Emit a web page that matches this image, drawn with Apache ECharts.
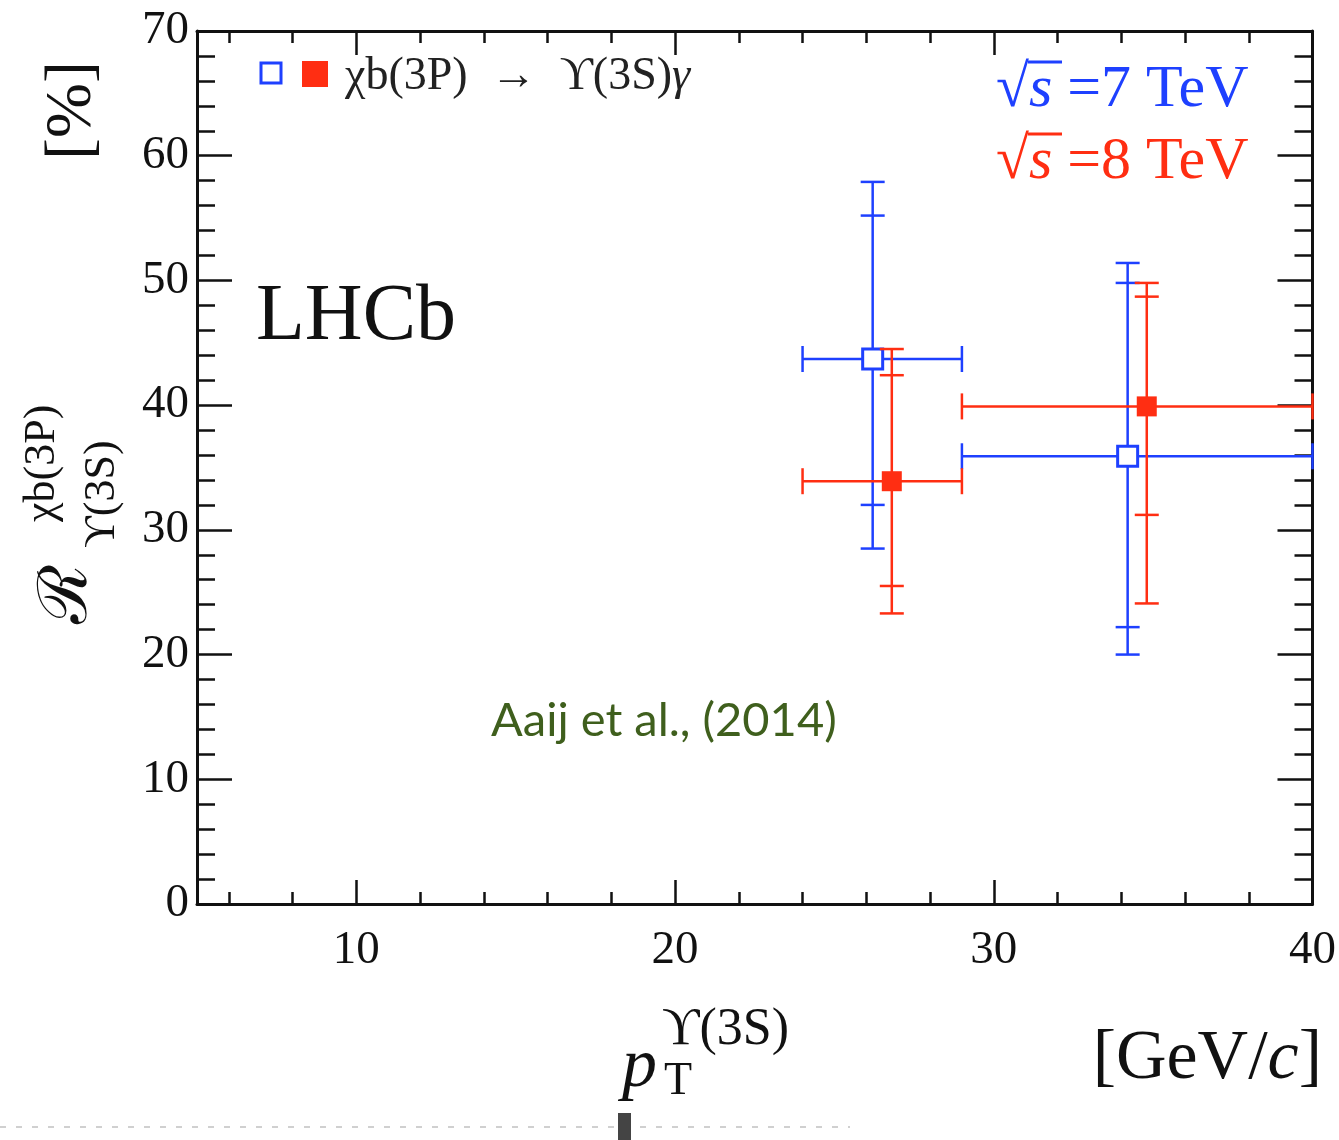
<!DOCTYPE html>
<html>
<head>
<meta charset="utf-8">
<script src="https://cdn.jsdelivr.net/npm/echarts@6/dist/echarts.min.js"></script>
<style>html,body{margin:0;padding:0;background:#fff;}#c{width:1339px;height:1140px;}</style>
</head>
<body>
<div id="c"></div>
<script>
// ---- data ----
const pt7 = [26.2, 34.2];          // pT bin centre, sqrt(s)=7 TeV
const r7 = [43.7, 35.9];           // ratio [%]
const binLo7 = [24, 29];
const binHi7 = [29, 40];
const statLo7 = [32.0, 22.2];
const statHi7 = [55.2, 49.8];
const totLo7 = [28.5, 20.0];
const totHi7 = [57.9, 51.4];

const pt8 = [26.8, 34.8];          // sqrt(s)=8 TeV
const r8 = [33.9, 39.9];
const binLo8 = [24, 29];
const binHi8 = [29, 40];
const statLo8 = [25.5, 31.2];
const statHi8 = [42.4, 48.7];
const totLo8 = [23.3, 24.1];
const totHi8 = [44.5, 49.8];

const xMajorTicks = [10, 20, 30, 40];
const xMinorTicks = [6, 8, 12, 14, 16, 18, 22, 24, 26, 28, 32, 34, 36, 38];

const BLUE = '#1e40ff';
const RED = '#ff2e12';
const SERIF = '"Liberation Serif", "DejaVu Serif", serif';

function rows(x, y, xl, xh, sl, sh, tl, th) {
  return x.map((v, i) => [v, y[i], xl[i], xh[i], sl[i], sh[i], tl[i], th[i]]);
}

function makeRender(color, filled) {
  return function (params, api) {
    const x = api.value(0), y = api.value(1);
    const c = api.coord([x, y]);
    const xl = api.coord([api.value(2), y])[0];
    const xh = api.coord([api.value(3), y])[0];
    const sl = api.coord([x, api.value(4)])[1];
    const sh = api.coord([x, api.value(5)])[1];
    const tl = api.coord([x, api.value(6)])[1];
    const th = api.coord([x, api.value(7)])[1];
    const st = { stroke: color, lineWidth: 2.5 };
    const cw = 12, ch = 13, half = 10;
    const L = (x1, y1, x2, y2) => ({ type: 'line', shape: { x1, y1, x2, y2 }, style: st });
    return {
      type: 'group',
      children: [
        L(xl, c[1], xh, c[1]),
        L(xl, c[1] - ch, xl, c[1] + ch),
        L(xh, c[1] - ch, xh, c[1] + ch),
        L(c[0], th, c[0], tl),
        L(c[0] - cw, th, c[0] + cw, th),
        L(c[0] - cw, tl, c[0] + cw, tl),
        L(c[0] - cw, sh, c[0] + cw, sh),
        L(c[0] - cw, sl, c[0] + cw, sl),
        { type: 'rect', shape: { x: c[0] - half, y: c[1] - half, width: 2 * half, height: 2 * half },
          style: filled ? { fill: color } : { fill: '#fff', stroke: color, lineWidth: 3 } }
      ]
    };
  };
}

const chart = echarts.init(document.getElementById('c'), null, { renderer: 'canvas' });

const axLine = { show: true, lineStyle: { color: '#111', width: 3 } };
const tickStyle = { color: '#111', width: 2.5 };

function xAx(pos, values, len, labels, lineShow) {
  return {
    type: 'value', position: pos, min: 5, max: 40,
    axisLine: lineShow ? axLine : { show: false },
    splitLine: { show: false },
    axisTick: { show: true, inside: true, length: len, customValues: values, lineStyle: tickStyle },
    axisLabel: labels ? { show: true, customValues: values, fontFamily: SERIF, fontSize: 47, color: '#111', margin: 23 } : { show: false }
  };
}
function yAx(pos, labels) {
  return {
    type: 'value', position: pos, min: 0, max: 70, interval: 10,
    axisLine: axLine,
    splitLine: { show: false },
    axisTick: { show: true, inside: true, length: 35, lineStyle: tickStyle },
    minorTick: { show: true, splitNumber: 5, length: 18, lineStyle: tickStyle },
    axisLabel: labels ? { show: true, fontFamily: SERIF, fontSize: 47, color: '#111', margin: 8 } : { show: false }
  };
}

function rt(fs, color, italic) {
  return { fontFamily: SERIF, fontSize: fs, fontStyle: italic ? 'italic' : 'normal', fill: color };
}

const option = {
  backgroundColor: '#fff',
  animation: false,
  grid: { left: 197, right: 23, top: 31, bottom: 236, containLabel: false },
  xAxis: [
    xAx('bottom', xMajorTicks, 24, true, true),
    xAx('bottom', xMinorTicks, 12, false, false),
    xAx('top', xMajorTicks, 24, false, true),
    xAx('top', xMinorTicks, 12, false, false)
  ],
  yAxis: [yAx('left', true), yAx('right', false)],
  series: [
    { type: 'custom', name: '7 TeV', xAxisIndex: 0, yAxisIndex: 0, renderItem: makeRender(BLUE, false),
      encode: { x: 0, y: 1 }, data: rows(pt7, r7, binLo7, binHi7, statLo7, statHi7, totLo7, totHi7), z: 3 },
    { type: 'custom', name: '8 TeV', xAxisIndex: 0, yAxisIndex: 0, renderItem: makeRender(RED, true),
      encode: { x: 0, y: 1 }, data: rows(pt8, r8, binLo8, binHi8, statLo8, statHi8, totLo8, totHi8), z: 4 }
  ],
  graphic: [
    // legend
    { type: 'rect', shape: { x: 261, y: 63, width: 20, height: 20 }, style: { fill: '#fff', stroke: BLUE, lineWidth: 3 } },
    { type: 'rect', shape: { x: 302, y: 61, width: 26, height: 26 }, style: { fill: RED } },
    { type: 'text', x: 345, y: 77, style: {
        text: '{a|χb(3P)  →  ϒ(3S)}{g|γ}', verticalAlign: 'middle', align: 'left',
        rich: { a: rt(46, '#222', false), g: rt(46, '#222', true) } } },
    // energies
    { type: 'text', x: 996, y: 90, style: {
        text: '{r|√}{s|s}{n| =7 TeV}', verticalAlign: 'middle', align: 'left',
        rich: { r: rt(60, BLUE, false), s: rt(60, BLUE, true), n: rt(60, BLUE, false) } } },
    { type: 'line', shape: { x1: 1028, y1: 62, x2: 1062, y2: 62 }, style: { stroke: BLUE, lineWidth: 3 } },
    { type: 'text', x: 996, y: 162, style: {
        text: '{r|√}{s|s}{n| =8 TeV}', verticalAlign: 'middle', align: 'left',
        rich: { r: rt(60, RED, false), s: rt(60, RED, true), n: rt(60, RED, false) } } },
    { type: 'line', shape: { x1: 1028, y1: 134, x2: 1062, y2: 134 }, style: { stroke: RED, lineWidth: 3 } },
    // LHCb
    { type: 'text', x: 256, y: 318, style: { text: 'LHCb', fontFamily: SERIF, fontSize: 80, fill: '#111', verticalAlign: 'middle', align: 'left' } },
    // citation
    { type: 'text', x: 491, y: 721, style: { text: 'Aaij et al., (2014)', fontFamily: 'Lato, "Open Sans", sans-serif', fontSize: 47, fill: '#3f5f1d', verticalAlign: 'middle', align: 'left' } },
    // x axis title
    { type: 'text', x: 622, y: 1068, style: { text: 'p', fontFamily: SERIF, fontStyle: 'italic', fontSize: 70, fill: '#111', verticalAlign: 'middle', align: 'left' } },
    { type: 'text', x: 664, y: 1082, style: { text: 'T', fontFamily: SERIF, fontSize: 46, fill: '#111', verticalAlign: 'middle', align: 'left' } },
    { type: 'text', x: 662, y: 1030, style: { text: 'ϒ(3S)', fontFamily: SERIF, fontSize: 52, fill: '#111', verticalAlign: 'middle', align: 'left' } },
    { type: 'text', x: 1322, y: 1060, style: {
        text: '{a|[GeV/}{b|c}{a|]}', align: 'right', verticalAlign: 'middle',
        rich: { a: rt(70, '#111', false), b: rt(70, '#111', true) } } },
    // y axis title (rotated)
    { type: 'text', x: 73, y: 160, rotation: Math.PI / 2, style: { text: '[%]', fontFamily: SERIF, fontSize: 66, fill: '#111', verticalAlign: 'middle', align: 'left' } },
    { type: 'text', x: 68, y: 624, rotation: Math.PI / 2, style: { text: 'ℛ', fontFamily: '"DejaVu Serif", serif', fontSize: 68, fill: '#111', verticalAlign: 'middle', align: 'left' } },
    { type: 'text', x: 42, y: 522, rotation: Math.PI / 2, style: { text: 'χb(3P)', fontFamily: SERIF, fontSize: 44, fill: '#111', verticalAlign: 'middle', align: 'left' } },
    { type: 'text', x: 102, y: 548, rotation: Math.PI / 2, style: { text: 'ϒ(3S)', fontFamily: SERIF, fontSize: 44, fill: '#111', verticalAlign: 'middle', align: 'left' } },
    // cropped remnants at the bottom edge
    { type: 'line', shape: { x1: 0, y1: 1127, x2: 850, y2: 1127 }, style: { stroke: '#d0d0d0', lineWidth: 2, lineDash: [6, 10] } },
    { type: 'rect', shape: { x: 618, y: 1113, width: 13, height: 27 }, style: { fill: '#444' } }
  ]
};
chart.setOption(option);
</script>
</body>
</html>
